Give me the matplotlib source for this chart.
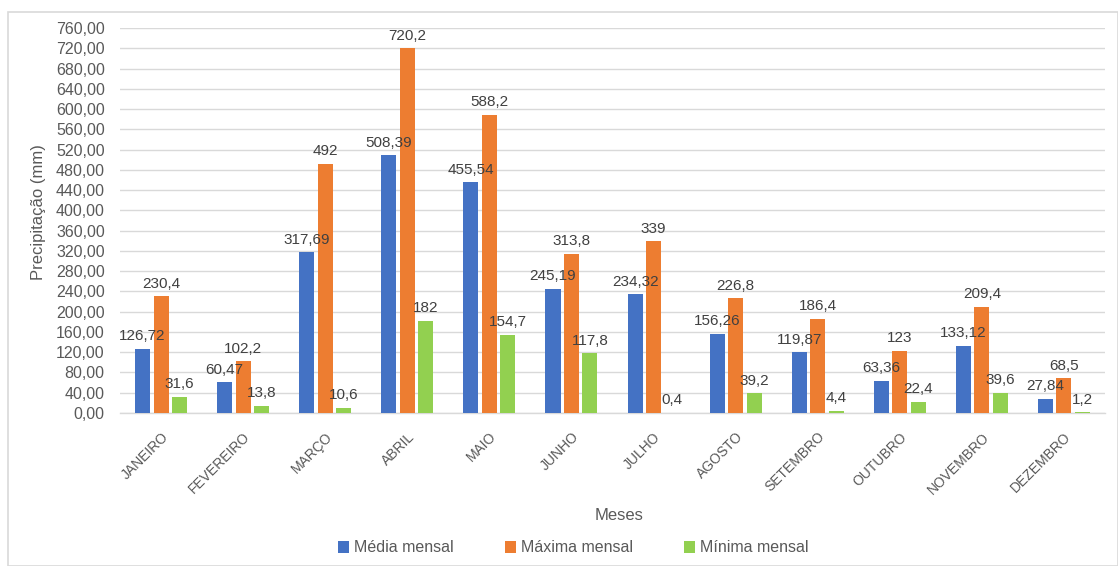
import matplotlib
matplotlib.use("Agg")
import matplotlib.pyplot as plt
from matplotlib.patches import Rectangle
import numpy as np

plt.rcParams['font.family'] = ['Liberation Sans', 'DejaVu Sans']

meses = ["JANEIRO", "FEVEREIRO", "MARÇO", "ABRIL", "MAIO", "JUNHO", "JULHO",
         "AGOSTO", "SETEMBRO", "OUTUBRO", "NOVEMBRO", "DEZEMBRO"]
media_mensal = [126.72, 60.47, 317.69, 508.39, 455.54, 245.19, 234.32,
                156.26, 119.87, 63.36, 133.12, 27.84]
maxima_mensal = [230.4, 102.2, 492, 720.2, 588.2, 313.8, 339,
                 226.8, 186.4, 123, 209.4, 68.5]
minima_mensal = [31.6, 13.8, 10.6, 182, 154.7, 117.8, 0.4,
                 39.2, 4.4, 22.4, 39.6, 1.2]
series_nomes = ["Média mensal", "Máxima mensal", "Mínima mensal"]
y_ticks = list(range(0, 761, 40))

cores = ["#4472C4", "#ED7D31", "#92D050"]
texto_cor = "#595959"

fig = plt.figure(figsize=(11.18, 5.66), dpi=100)
ax = fig.add_axes([120 / 1118, 1 - 413 / 566, 985 / 1118, (413 - 28) / 566])

# chart frame
fig.patches.append(Rectangle((8 / 1118, 0), 1 - 8 / 1118, 1 - 12 / 566,
                             transform=fig.transFigure, fill=False,
                             edgecolor="#D9D9D9", linewidth=1.2))

x = np.arange(len(meses))
largura = 0.183
passo = 0.225

def rotulo(v):
    return f"{v:g}".replace(".", ",")

for i, (valores, cor, nome) in enumerate(zip([media_mensal, maxima_mensal, minima_mensal],
                                             cores, series_nomes)):
    pos = x + (i - 1) * passo
    barras = ax.bar(pos, valores, width=largura, color=cor, label=nome, zorder=3)
    for b, v in zip(barras, valores):
        ax.annotate(rotulo(v), (b.get_x() + b.get_width() / 2, v),
                    xytext=(0, 4), textcoords="offset points",
                    ha="center", va="bottom", fontsize=11, color="#404040",
                    zorder=4)

ax.set_xlim(-0.5, len(meses) - 0.5)
ax.set_ylim(0, 760)
ax.set_yticks(y_ticks)
ax.set_yticklabels([f"{t:.2f}".replace(".", ",") for t in y_ticks],
                   fontsize=11.5, color=texto_cor)
ax.yaxis.grid(True, color="#D9D9D9", linewidth=1, zorder=0)
ax.set_axisbelow(True)
ax.tick_params(axis="y", length=0, pad=11)

ax.set_xticks(x)
ax.set_xticklabels(meses, rotation=45, ha="right", va="top",
                   rotation_mode="anchor", fontsize=10, color=texto_cor)
ax.tick_params(axis="x", length=0, pad=12)

for lado in ["top", "right", "left"]:
    ax.spines[lado].set_visible(False)
ax.spines["bottom"].set_color("#D9D9D9")
ax.spines["bottom"].set_linewidth(1)

ax.set_ylabel("Precipitação (mm)", fontsize=12, color=texto_cor)
ax.yaxis.set_label_coords(-74 / 985, (413 - 212) / 385)
fig.text(619 / 1118, 1 - 515 / 566, "Meses", ha="center", va="center",
         fontsize=12, color=texto_cor)

leg = fig.legend(loc="center", bbox_to_anchor=(573 / 1118, 1 - 548 / 566),
                 ncol=3, frameon=False, fontsize=11.5, handlelength=0.7,
                 handleheight=0.7, handletextpad=0.3, columnspacing=3.2)
for t in leg.get_texts():
    t.set_color(texto_cor)

fig.savefig("out.png", dpi=100)
